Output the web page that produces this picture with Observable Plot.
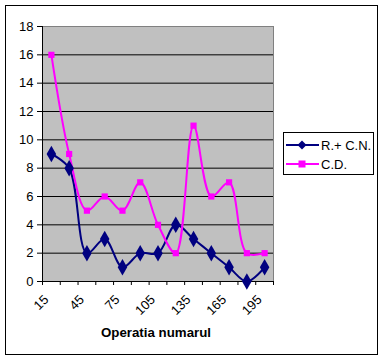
<!DOCTYPE html>
<html><head><meta charset="utf-8">
<script src="https://cdn.jsdelivr.net/npm/d3@7"></script>
<script src="https://cdn.jsdelivr.net/npm/@observablehq/plot@0.6"></script>
<style>
body{margin:0;background:#fff;font-family:"Liberation Sans",Arial,sans-serif;}
#wrap{position:relative;width:384px;height:361px;overflow:hidden;}
#border{position:absolute;left:5px;top:5px;width:373px;height:350px;border:1px solid #000;box-sizing:border-box;pointer-events:none;}
#chart{position:absolute;left:0;top:0;}
#title{position:absolute;left:0;width:312px;top:325px;text-align:center;font-weight:bold;font-size:13.3px;}
#legend{position:absolute;left:283px;top:132px;width:91px;height:43px;border:1px solid #000;box-sizing:border-box;background:#fff;font-size:13px;}
.row{position:absolute;left:2px;height:16px;display:flex;align-items:center;}
.row svg{display:block;margin-right:2px;}
</style>
</head><body>
<div id="wrap"><div id="chart"></div><div id="title"></div><div id="legend"></div><div id="border"></div></div>
<script>
const categories = [15,30,45,60,75,90,105,120,135,150,165,180,195];
const labelTicks = [15,45,75,105,135,165,195];
const seriesRCN = [9,8,2,3,1,2,2,4,3,2,1,0,1];
const seriesCD = [16,9,5,6,5,7,4,2,11,6,7,2,2];
const yTicks = [0,2,4,6,8,10,12,14,16,18];
const seriesNames = ["R.+ C.N.","C.D."];
const seriesColors = ["#000080","#FF00FF"];
const xTitle = "Operatia numarul";

const step = categories[1]-categories[0];
const bounds = [...categories.map(c=>c-step/2), categories[categories.length-1]+step/2];
const rcn = categories.map((c,i)=>({x:c,y:seriesRCN[i],s:seriesNames[0]}));
const cd = categories.map((c,i)=>({x:c,y:seriesCD[i],s:seriesNames[1]}));

const chart = Plot.plot({
  width:384, height:361,
  marginLeft:42, marginRight:111, marginTop:26, marginBottom:80,
  x:{domain:[bounds[0], bounds[bounds.length-1]]},
  y:{domain:[0,18]},
  color:{domain:seriesNames, range:seriesColors},
  style:{fontFamily:'"Liberation Sans",Arial,sans-serif', fontSize:"13px", color:"#000", background:"transparent", overflow:"visible"},
  marks:[
    Plot.frame({fill:"#C0C0C0", stroke:null}),
    Plot.gridY(yTicks,{stroke:"#000", strokeOpacity:1}),
    Plot.frame({stroke:"#808080"}),
    Plot.ruleX([bounds[0]],{stroke:"#000"}),
    Plot.ruleY([0],{stroke:"#000"}),
    Plot.axisY(yTicks,{tickSize:5, tickPadding:4, label:null, stroke:"#000"}),
    Plot.axisX(bounds,{tickSize:4, tickFormat:()=>"", label:null, stroke:"#000"}),
    Plot.axisX(labelTicks,{tickSize:0, tickRotate:-45, tickPadding:10, dx:-5, dy:6, label:null}),
    Plot.line(rcn,{x:"x", y:"y", stroke:"s", curve:"catmull-rom", strokeWidth:2}),
    Plot.line(cd,{x:"x", y:"y", stroke:"s", curve:"catmull-rom", strokeWidth:2}),
    Plot.dot(rcn,{x:"x", y:"y", fill:"s", symbol:"diamond", r:5, stroke:null}),
    Plot.dot(cd,{x:"x", y:"y", fill:"s", symbol:"square", r:3.5, stroke:null})
  ]
});
document.getElementById("chart").appendChild(chart);
document.getElementById("title").textContent = xTitle;

const leg = document.getElementById("legend");
seriesNames.forEach((n,i)=>{
  const row = document.createElement("div");
  row.className="row";
  row.style.top = (4 + i*19) + "px";
  const sym = i===0
    ? `<path d="M16,3.5 L20.5,8 L16,12.5 L11.5,8 Z" fill="${seriesColors[i]}"/>`
    : `<rect x="12.5" y="4.5" width="7" height="7" fill="${seriesColors[i]}"/>`;
  row.innerHTML = `<svg width="33" height="16"><line x1="0" x2="33" y1="8" y2="8" stroke="${seriesColors[i]}" stroke-width="2"/>${sym}</svg><span>${n}</span>`;
  leg.appendChild(row);
});
</script>
</body></html>
